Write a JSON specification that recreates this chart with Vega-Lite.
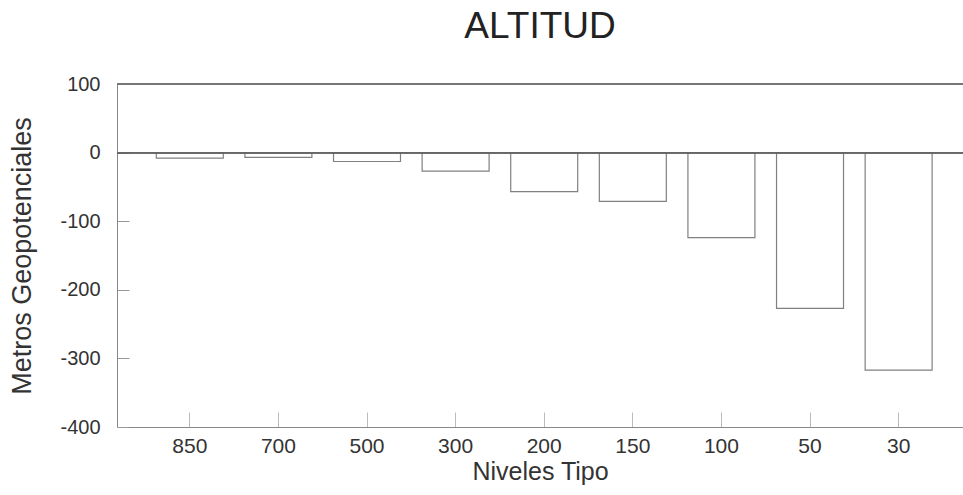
{
  "$schema": "https://vega.github.io/schema/vega-lite/v6.json",
  "autosize": "none",
  "width": 846,
  "height": 343,
  "padding": {"left": 117, "top": 84, "right": 0, "bottom": 68},
  "background": "white",
  "title": {
    "text": "ALTITUD",
    "font": "Liberation Sans",
    "fontSize": 37,
    "fontWeight": "normal",
    "color": "#222222",
    "anchor": "middle",
    "offset": 28
  },
  "data": {
    "values": [
      {"nivel": "850", "altitud": -8},
      {"nivel": "700", "altitud": -7},
      {"nivel": "500", "altitud": -13},
      {"nivel": "300", "altitud": -27},
      {"nivel": "200", "altitud": -57},
      {"nivel": "150", "altitud": -71},
      {"nivel": "100", "altitud": -124},
      {"nivel": "50", "altitud": -227},
      {"nivel": "30", "altitud": -317}
    ]
  },
  "layer": [
    {
      "mark": {"type": "bar", "fill": "white", "stroke": "#808080", "strokeWidth": 1.2},
      "encoding": {
        "x": {
          "field": "nivel",
          "type": "ordinal",
          "sort": ["850", "700", "500", "300", "200", "150", "100", "50", "30"],
          "scale": {"paddingInner": 0.244, "paddingOuter": 0.396, "align": 0.56},
          "axis": {
            "title": "Niveles Tipo",
            "labelAngle": 0,
            "labelFont": "Liberation Sans",
            "labelFontSize": 21,
            "labelColor": "#333333",
            "labelPadding": 23,
            "tickSize": -15,
            "tickColor": "#bbbbbb",
            "domainColor": "#888888",
            "titleFont": "Liberation Sans",
            "titleFontSize": 25,
            "titleFontWeight": "normal",
            "titleColor": "#333333",
            "titlePadding": 3
          }
        },
        "y": {
          "field": "altitud",
          "type": "quantitative",
          "scale": {"domain": [-400, 100], "nice": false},
          "axis": {
            "title": "Metros Geopotenciales",
            "values": [-400, -300, -200, -100, 0, 100],
            "labelExpr": "'' + datum.value",
            "grid": false,
            "labelFont": "Liberation Sans",
            "labelFontSize": 20,
            "labelColor": "#333333",
            "labelPadding": 29,
            "tickSize": -12,
            "tickColor": "#999999",
            "domainColor": "#888888",
            "titleFont": "Liberation Sans",
            "titleFontSize": 27,
            "titleFontWeight": "normal",
            "titleColor": "#333333",
            "titlePadding": 23
          }
        }
      }
    },
    {
      "mark": {"type": "rule", "color": "#666666", "strokeWidth": 1.2},
      "encoding": {"y": {"datum": 0}}
    },
    {
      "mark": {"type": "rule", "color": "#777777", "strokeWidth": 1.2},
      "encoding": {"y": {"datum": 100}}
    }
  ],
  "config": {"view": {"stroke": null}}
}
